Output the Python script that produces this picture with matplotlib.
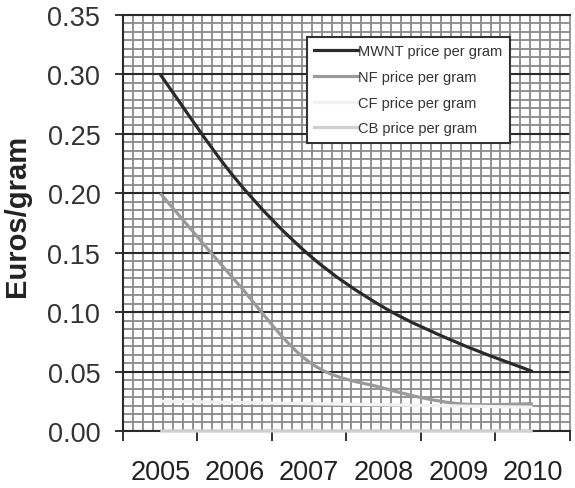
import numpy as np
import matplotlib
matplotlib.use("Agg")
import matplotlib.pyplot as plt
from matplotlib.path import Path
from matplotlib.patches import PathPatch
from matplotlib.lines import Line2D
from matplotlib.ticker import MultipleLocator, FixedLocator, NullFormatter

plt.rcParams.update({
    "font.family": ["Liberation Sans", "DejaVu Sans"],
    "figure.dpi": 100,
})

years = ["2005", "2006", "2007", "2008", "2009", "2010"]
mwnt = [0.300, 0.213, 0.148, 0.104, 0.074, 0.050]
nf = [0.200, 0.127, 0.058, 0.036, 0.023, 0.023]
cf = [0.025, 0.024, 0.023, 0.022, 0.021, 0.020]
cb = [0.0, 0.0, 0.0, 0.0, 0.0, 0.0]

series = [
    ("MWNT price per gram", mwnt, "#2a2a2a"),
    ("NF price per gram", nf, "#9a9a9a"),
    ("CF price per gram", cf, "#f2f2f2"),
    ("CB price per gram", cb, "#cfcfcf"),
]
LW = 2.3


def smooth_path(xs, ys):
    # Excel-style smoothed line: cubic Bezier through every data point
    p = np.column_stack([xs, ys]).astype(float)
    ext = np.vstack([p[0], p, p[-1]])
    verts, codes = [p[0]], [Path.MOVETO]
    for i in range(len(p) - 1):
        a, b, c, d = ext[i], ext[i + 1], ext[i + 2], ext[i + 3]
        verts += [b + (c - a) / 6, c - (d - b) / 6, c]
        codes += [Path.CURVE4] * 3
    return Path(verts, codes)


fig = plt.figure(figsize=(5.75, 4.89))
ax = fig.add_axes([0.2139, 0.1166, 0.7774, 0.8507])

x = np.arange(len(years))
handles = []
for lab, vals, col in series:
    ax.add_patch(PathPatch(smooth_path(x, vals), fc="none", ec=col, lw=LW,
                           capstyle="butt", zorder=4, clip_on=False))
    handles.append(Line2D([], [], color=col, lw=LW, label=lab))

ax.set_xlim(-0.5, len(years) - 0.5)
ax.set_ylim(0, 0.35)

# horizontal grid: dark major, grey minor
ax.yaxis.set_major_locator(MultipleLocator(0.05))
ax.yaxis.set_minor_locator(MultipleLocator(0.05 / 7))
ax.grid(which="major", axis="y", color="#2a2a2a", lw=1.5, zorder=1)
ax.grid(which="minor", axis="y", color="#8a8a8a", lw=1.3, zorder=0.5)
ax.tick_params(axis="y", which="minor", length=0)
# vertical background grid
for gx in np.linspace(-0.5, len(years) - 0.5, 46)[1:-1]:
    ax.axvline(gx, color="#8a8a8a", lw=1.3, zorder=0.5)
ax.set_axisbelow(True)

ax.set_yticklabels([f"{v:.2f}" for v in ax.get_yticks()])
ax.tick_params(axis="y", which="major", direction="out", length=5.8,
               width=1.4, color="#333333", pad=10.5, labelsize=19.5,
               labelcolor="#333333")

# category boundaries as ticks, labels centred
ax.xaxis.set_major_locator(FixedLocator(np.arange(-0.5, len(years), 1.0)))
ax.xaxis.set_major_formatter(NullFormatter())
ax.set_xticks(x, years, minor=True)
ax.tick_params(axis="x", which="major", direction="out", length=7.5,
               width=1.4, color="#333333")
ax.tick_params(axis="x", which="minor", length=0, pad=20,
               labelsize=19.5, labelcolor="#222222")

for side in ["left", "bottom", "top"]:
    ax.spines[side].set_color("#2a2a2a")
    ax.spines[side].set_linewidth(1.5)
ax.spines["right"].set_color("#888888")
ax.spines["right"].set_linewidth(1.2)

ax.set_ylabel("Euros/gram", fontsize=21, fontweight="bold", color="#222222")
ax.yaxis.set_label_coords(-0.205, 0.52)

leg = ax.legend(handles=handles, loc="upper left",
                bbox_to_anchor=(0.411, 0.947),
                fontsize=10.5, frameon=True, fancybox=False,
                edgecolor="#333333", facecolor="white", framealpha=1,
                handlelength=3.0, handletextpad=0.05, labelspacing=0.8,
                borderpad=0.5, borderaxespad=0)
leg.get_frame().set_linewidth(1.5)
for t in leg.get_texts():
    t.set_color("#333333")
leg.set_zorder(6)

fig.savefig("out.png", dpi=100)
